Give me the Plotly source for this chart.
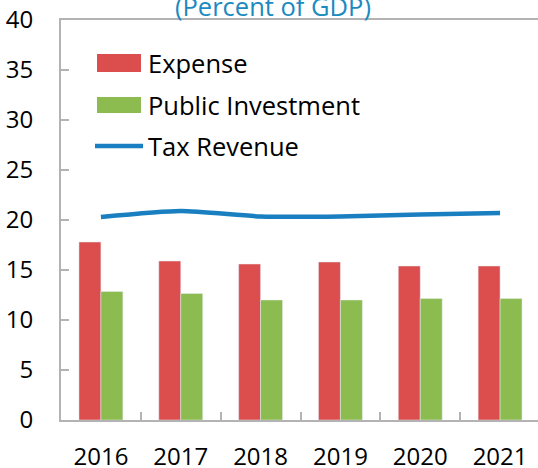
import plotly.graph_objects as go

years = ["2016", "2017", "2018", "2019", "2020", "2021"]
expense = [17.8, 15.9, 15.6, 15.8, 15.4, 15.4]
public_investment = [12.85, 12.65, 12.0, 12.0, 12.15, 12.15]
tax_revenue = [20.3, 20.9, 20.35, 20.35, 20.55, 20.7]

RED = "#dc4e4e"
GREEN = "#8cbb4f"
BLUE = "#1a7fc1"
AXIS = "#b3b3b3"
FONT = "Open Sans"

fig = go.Figure()
fig.add_trace(go.Bar(x=years, y=expense, name="Expense",
                     marker_color=RED, showlegend=False))
fig.add_trace(go.Bar(x=years, y=public_investment, name="Public Investment",
                     marker_color=GREEN, showlegend=False))
fig.add_trace(go.Scatter(x=years, y=tax_revenue, name="Tax Revenue", mode="lines",
                         line=dict(color=BLUE, width=4.5, shape="spline", smoothing=0.6),
                         showlegend=False))

# hand-drawn legend (plot-area fractions)
fig.add_shape(type="rect", xref="paper", yref="paper", x0=0.0755, x1=0.1677,
              y0=0.87, y1=0.915, fillcolor=RED, line_width=0)
fig.add_shape(type="rect", xref="paper", yref="paper", x0=0.0755, x1=0.1677,
              y0=0.7675, y1=0.8075, fillcolor=GREEN, line_width=0)
fig.add_shape(type="line", xref="paper", yref="paper", x0=0.0713, x1=0.172,
              y0=0.685, y1=0.685, line=dict(color=BLUE, width=4.5))
for label, ypos in [("Expense", 0.8925), ("Public Investment", 0.7875),
                    ("Tax Revenue", 0.685)]:
    fig.add_annotation(text=label, xref="paper", yref="paper", x=0.178, y=ypos,
                       xanchor="left", yanchor="middle", showarrow=False,
                       font=dict(size=25.5, color="#000000", family=FONT))

# title sits partly above the top edge, as in the source
fig.add_annotation(text="(Percent of GDP)", xref="paper", yref="paper",
                   x=0.444, y=1.036, xanchor="center", yanchor="middle",
                   showarrow=False, font=dict(size=25.5, color="#1a8ac0", family=FONT))

fig.update_layout(
    width=538, height=468,
    margin=dict(l=61, r=0, t=20, b=48),
    paper_bgcolor="white", plot_bgcolor="white",
    barmode="group", bargap=0.45, bargroupgap=0,
    font=dict(family=FONT, size=24, color="#000000"),
)
# the last category boundary falls just past the right edge
fig.update_xaxes(type="category", range=[-0.5, 5.475], showline=True, linecolor=AXIS,
                 linewidth=2, mirror=True, ticks="inside", tickson="boundaries",
                 ticklen=8, tickcolor=AXIS, tickwidth=1.5, showgrid=False,
                 ticklabelstandoff=14, automargin=False)
fig.update_yaxes(range=[0, 40], dtick=5, showline=True, linecolor=AXIS, linewidth=2,
                 ticks="inside", ticklen=8, tickcolor=AXIS, tickwidth=1.5,
                 showgrid=False, zeroline=False, ticklabelstandoff=21,
                 automargin=False)

# drop the default 8px body margin so the figure fills the window
fig.write_html("out.html", config={"displayModeBar": False},
               post_script="document.body.style.margin='0';"
                           "document.body.style.overflow='hidden';")
